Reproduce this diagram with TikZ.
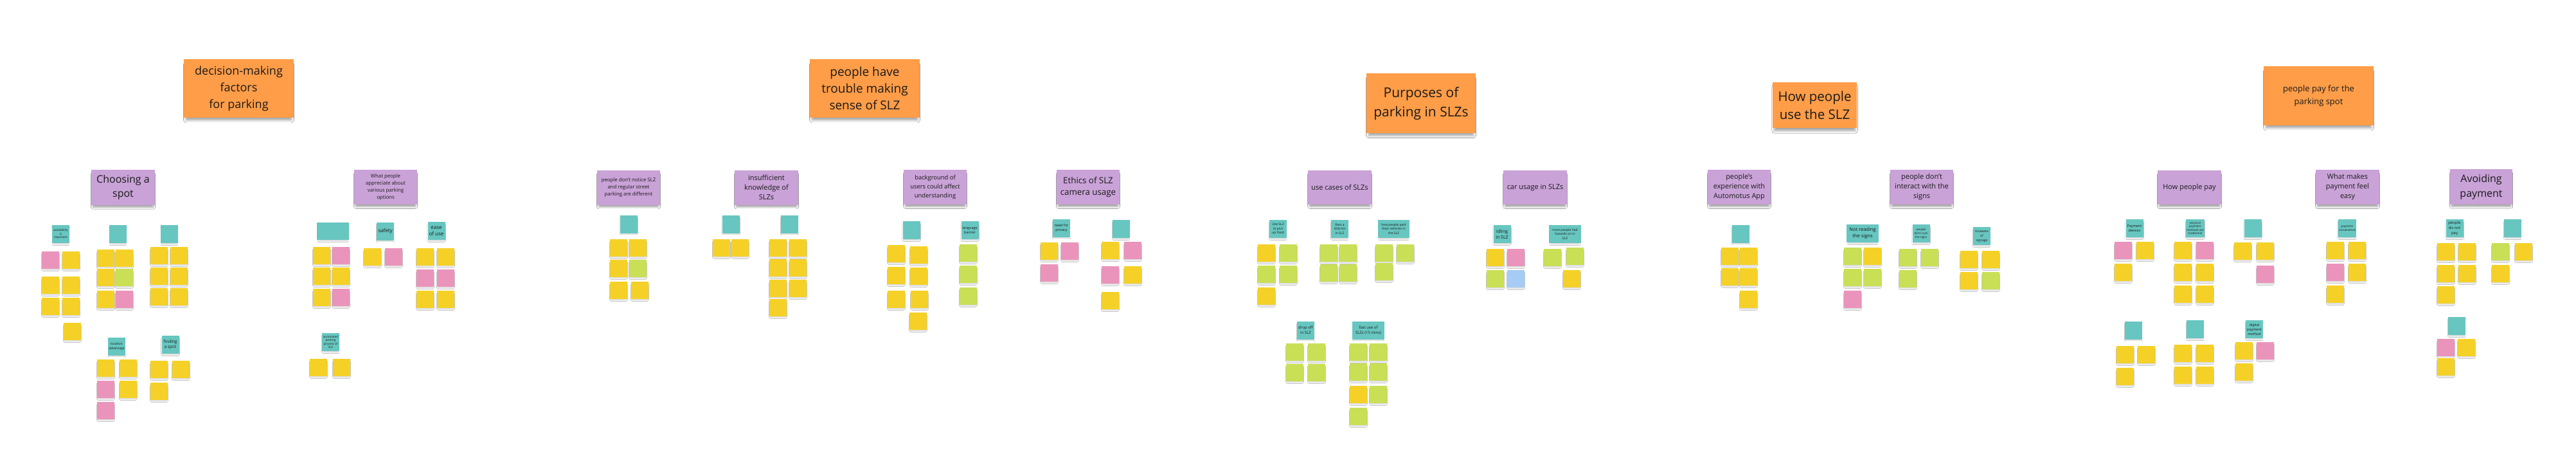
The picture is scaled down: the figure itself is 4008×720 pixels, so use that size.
\documentclass[tikz,border=0pt]{standalone}
\usepackage{fontspec}
\setmainfont{Open Sans}
\usetikzlibrary{shadows.blur}
\definecolor{orangeC}{HTML}{FF9D48}
\definecolor{purpleC}{HTML}{C9A2D7}
\definecolor{tealC}{HTML}{67C6C0}
\definecolor{yelC}{HTML}{F5D128}
\definecolor{pinkC}{HTML}{EA94BB}
\definecolor{limeC}{HTML}{C9DF56}
\definecolor{blueC}{HTML}{A6CCF5}
\definecolor{ink}{HTML}{1A1A1A}
\tikzset{
  card/.style={inner sep=1pt, align=center, text=ink, draw=none,
    blur shadow={shadow xshift=0pt, shadow yshift=-3pt, shadow blur radius=2pt, shadow opacity=18, shadow scale=0.92}},
  note/.style={card, minimum width=26.5pt, minimum height=26.5pt},
  teal/.style={card, fill=tealC, minimum width=27pt, minimum height=28pt},
  head/.style={card, fill=orangeC, blur shadow={shadow xshift=0pt, shadow yshift=-6pt, shadow blur radius=4pt, shadow opacity=20, shadow scale=0.96}},
  cat/.style={card, fill=purpleC, minimum width=98pt, minimum height=54pt, blur shadow={shadow xshift=0pt, shadow yshift=-5pt, shadow blur radius=3pt, shadow opacity=20, shadow scale=0.95}},
}
\newcounter{stk}
\newcommand\stk[3]{\stepcounter{stk}\node[note,fill=#1] (s\arabic{stk}) at (#2+13.5,#3+13.5) {};}
\newcommand\stY[2]{\stk{yelC}{#1}{#2}}
\newcommand\stP[2]{\stk{pinkC}{#1}{#2}}
\newcommand\stG[2]{\stk{limeC}{#1}{#2}}
\newcommand\stB[2]{\stk{blueC}{#1}{#2}}
\newcommand\fs[2]{\fontsize{#1}{#2}\selectfont}
\begin{document}
\begin{tikzpicture}[x=1pt,y=-1pt]
\useasboundingbox[fill=white] (0,0) rectangle (4008,720);

% ---------- Section 1 ----------
\node[head, minimum width=171pt, minimum height=91pt, font=\fs{18}{26}] (h1) at (371.5,137.5) {decision-making\\factors\\for parking};
\node[cat, minimum width=99pt, minimum height=55pt, font=\fs{16}{22.5}] (c1) at (191.5,291.5) {Choosing a\\spot};
\node[teal, font=\fs{4.5}{5.5}] (t11) at (94.5,364) {availability\\is\\important};
\node[teal] (t12) at (183.5,364) {};
\node[teal] (t13) at (263.5,364) {};
\stP{65}{391}\stY{97}{391}\stY{65}{430}\stY{97}{430}\stY{65}{463}\stY{97}{463}\stY{99}{502}
\stY{151}{388}\stY{180}{388}\stY{151}{418}\stG{180}{418}\stY{151}{452}\stP{180}{452}
\stY{234}{384}\stY{265}{384}\stY{234}{416}\stY{265}{416}\stY{234}{448}\stY{265}{448}
\node[teal, font=\fs{5}{6.5}] (t14) at (181.5,538.5) {location\\advantage};
\stY{151}{559}\stY{186}{559}\stP{151}{592}\stY{186}{592}\stP{151}{625}
\node[teal, font=\fs{6.5}{8}] (t15) at (265,536) {finding\\a spot};
\stY{234}{561}\stY{268}{561}\stY{234}{595}

% ---------- Section 2 ----------
\node[cat, font=\fs{7.8}{11}] (c2) at (600,291) {What people\\appreciate about\\various parking\\options};
\node[teal, minimum width=50pt, minimum height=27pt] (t21) at (518,359.5) {};
\node[teal, font=\fs{8}{10}] (t22) at (599.5,359.5) {safety};
\node[teal, font=\fs{8}{10}] (t23) at (679,359) {ease\\of use};
\stY{487}{384}\stP{517}{384}\stY{487}{416}\stY{517}{416}\stY{487}{449}\stP{517}{449}
\stY{566}{386}\stP{599}{386}
\stY{648}{386}\stY{680}{386}\stP{648}{419}\stP{680}{419}\stY{648}{452}\stY{680}{452}
\node[teal, font=\fs{4.5}{5.5}] (t24) at (514.5,532) {automated\\parking\\process of\\SLZ};
\stY{482}{558}\stY{518}{558}

% ---------- Section 3 ----------
\node[head, minimum width=171pt, minimum height=91pt, font=\fs{19}{25.7}] (h2) at (1345.5,137.5) {people have\\trouble making\\sense of SLZ};
\node[cat, font=\fs{7.8}{11.3}] (c3) at (978,291.5) {people don't notice SLZ\\and regular street\\parking are different};
\node[cat, minimum width=99pt, font=\fs{11}{15}] (c4) at (1192.5,291.5) {insufficient\\knowledge of\\SLZs};
\node[teal] (t31) at (978,348.5) {};
\stY{949}{372}\stY{979}{372}\stY{949}{404}\stG{979}{404}\stY{949}{438}\stY{982}{438}
\node[teal] (t32) at (1137,348.5) {};
\stY{1109}{372}\stY{1138}{372}
\node[teal] (t33) at (1228.5,348.5) {};
\stY{1197}{372}\stY{1228}{372}\stY{1197}{403}\stY{1228}{403}\stY{1197}{435}\stY{1228}{435}\stY{1197}{465}
\node[cat, font=\fs{9.4}{14}] (c5) at (1455,291) {background of\\users could affect\\understanding};
\node[teal] (t34) at (1418,358) {};
\stY{1381}{381}\stY{1416}{383}\stY{1381}{415}\stY{1416}{416}\stY{1381}{452}\stY{1417}{452}\stY{1415}{486}
\node[teal, font=\fs{5.5}{7}] (t35) at (1509,358) {language\\barrier};
\stG{1493}{380}\stG{1493}{413}\stG{1493}{447}
\node[cat, font=\fs{13.3}{18}] (c6) at (1693,291) {Ethics of SLZ\\camera usage};
\node[teal, font=\fs{5.5}{7}] (t36) at (1651.5,354.5) {need for\\privacy};
\stY{1619}{377}\stP{1651}{377}\stP{1619}{411}
\node[teal] (t37) at (1744.5,356) {};
\stY{1714}{376}\stP{1749}{376}\stP{1714}{414}\stY{1749}{414}\stY{1714}{454}

% ---------- Section 4 ----------
\node[head, minimum width=170pt, minimum height=93pt, font=\fs{21}{30}] (h3) at (2211,160.5) {Purposes of\\parking in SLZs};
\node[cat, minimum width=99pt, minimum height=53pt, font=\fs{11}{14}] (c7) at (2084.5,291.5) {use cases of SLZs};
\node[cat, minimum width=99pt, minimum height=53pt, font=\fs{11}{14}] (c8) at (2388.5,291.5) {car usage in SLZs};
\node[teal, font=\fs{5}{6.5}] (t41) at (1988.5,356) {Use SLZ\\to pick\\up food};
\stY{1957}{380}\stG{1991}{380}\stG{1957}{413}\stG{1991}{413}\stY{1957}{447}
\node[teal, font=\fs{5}{6.5}] (t42) at (2084.5,356) {Rest a\\little bit\\in SLZ};
\stG{2054}{380}\stG{2084}{380}\stG{2054}{411}\stG{2084}{411}
\node[teal, minimum width=49pt, font=\fs{5}{6.5}] (t43) at (2168.5,356) {how people park\\their vehicles in\\the SLZ};
\stG{2140}{380}\stG{2173}{380}\stG{2140}{409}
\node[teal, font=\fs{7}{9}] (t44) at (2337,364) {idling\\in SLZ};
\stY{2313}{387}\stP{2345}{387}\stG{2313}{420}\stB{2345}{420}
\node[teal, minimum width=50pt, font=\fs{5}{6.5}] (t45) at (2435,364) {most people had\\hazards on in\\SLZ};
\stG{2402}{387}\stG{2437}{385}\stY{2432}{420}
\node[teal, font=\fs{6}{8}] (t46) at (2031.5,513.5) {drop off\\in SLZ};
\stG{2001}{534}\stG{2035}{534}\stG{2001}{566}\stG{2035}{566}
\node[teal, minimum width=50pt, font=\fs{6}{8}] (t47) at (2129,513.5) {fast use of\\SLZs (15 mins)};
\stG{2100}{534}\stG{2131}{534}\stG{2100}{565}\stG{2131}{565}\stY{2100}{600}\stG{2131}{600}\stG{2100}{634}

% ---------- Section 5 ----------
\node[head, minimum width=131pt, minimum height=71pt, font=\fs{20.5}{28}] (h4) at (2823.5,163.5) {How people\\use the SLZ};
\node[cat, font=\fs{10.9}{15}] (c9) at (2706,291) {people's\\experience with\\Automotus App};
\node[cat, font=\fs{11}{15}] (c10) at (2990,291) {people don't\\interact with the\\signs};
\node[teal] (t51) at (2708.5,363.5) {};
\stY{2678}{385}\stY{2707}{385}\stY{2678}{417}\stY{2707}{417}\stY{2707}{452}
\node[teal, minimum width=50pt, font=\fs{7.5}{10}] (t52) at (2898,363) {Not reading\\the signs};
\stG{2869}{385}\stY{2900}{385}\stG{2869}{418}\stG{2900}{418}\stP{2869}{452}
\node[teal, font=\fs{4.5}{6}] (t53) at (2989,363) {people\\don't scan\\the signs};
\stG{2955}{387}\stG{2989}{387}\stG{2955}{420}
\node[teal, font=\fs{5}{7}] (t54) at (3083.5,367) {Unaware\\of\\signage};
\stY{3050}{390}\stY{3084}{390}\stY{3050}{423}\stG{3084}{423}

% ---------- Section 6 ----------
\node[head, minimum width=171pt, minimum height=92pt, font=\fs{13}{20}] (h5) at (3607.5,149) {people pay for the\\parking spot};
\node[cat, minimum width=99pt, minimum height=53pt, font=\fs{11}{15}] (c11) at (3406.5,291.5) {How people pay};
\node[cat, minimum width=99pt, font=\fs{11}{15}] (c12) at (3652.5,291) {What makes\\payment feel\\easy};
\node[teal, font=\fs{5.5}{7}] (t61) at (3321,355) {Payment\\devices};
\stP{3290}{376}\stY{3324}{376}\stY{3290}{410}
\node[teal, font=\fs{4.5}{5.5}] (t62) at (3415.5,355) {physical\\payment\\methods are\\traditional};
\stY{3383}{376}\stP{3417}{376}\stY{3383}{410}\stY{3417}{410}\stY{3383}{444}\stY{3417}{444}
\node[teal] (t63) at (3505,355) {};
\stY{3476}{377}\stY{3511}{377}\stP{3511}{413}
\node[teal, font=\fs{4.5}{5.5}] (t64) at (3652,355) {payment\\convenience};
\stY{3620}{376}\stY{3654}{376}\stP{3620}{410}\stY{3654}{410}\stY{3620}{444}
\node[teal] (t65) at (3319.5,513.5) {};
\stY{3293}{538}\stY{3326}{538}\stY{3293}{572}
\node[teal] (t66) at (3415.5,512) {};
\stY{3383}{536}\stY{3417}{536}\stY{3383}{570}\stY{3417}{570}
\node[teal, font=\fs{5.5}{7}] (t67) at (3507.5,512) {digital\\payment\\method};
\stY{3478}{532}\stP{3511}{532}\stY{3478}{565}
\node[cat, minimum width=97pt, minimum height=55pt, font=\fs{16}{23}] (c13) at (3860.5,290.5) {Avoiding\\payment};
\node[teal, font=\fs{6}{8}] (t71) at (3819,355) {people\\do not\\pay};
\stY{3792}{378}\stY{3825}{378}\stY{3792}{412}\stY{3825}{412}\stY{3792}{445}
\node[teal] (t72) at (3909.5,355) {};
\stG{3877}{378}\stY{3913}{378}\stY{3877}{412}
\node[teal] (t73) at (3822.5,507) {};
\stP{3792}{527}\stY{3824}{527}\stY{3792}{557}
\end{tikzpicture}
\end{document}
